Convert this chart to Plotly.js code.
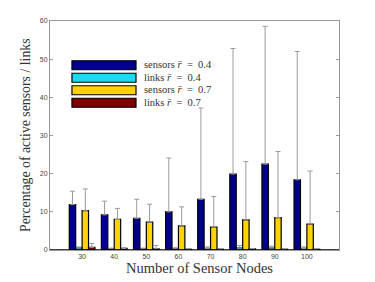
<!DOCTYPE html>
<html>
<head>
<meta charset="utf-8">
<script src="https://cdn.plot.ly/plotly-3.0.1.min.js"></script>
<style>html,body{margin:0;padding:0;background:#fff;}#chart{width:375px;height:282px;}</style>
</head>
<body>
<div id="chart"></div>
<script>
// ---- data ----
const nodes = [30, 40, 50, 60, 70, 80, 90, 100];
const sensors04 = [11.9, 9.2, 8.3, 10.0, 13.3, 19.9, 22.5, 18.4];
const sensors04Upper = [15.4, 12.8, 13.3, 24.1, 37.2, 52.8, 58.6, 52.0];
const links04 = [0.6, 0.3, 0.3, 0.3, 0.4, 0.6, 0.5, 0.4];
const links04Upper = [0.8, 0.5, 0.5, 0.6, 0.8, 1.2, 1.0, 0.8];
const sensors07 = [10.3, 8.0, 7.3, 6.3, 6.0, 7.9, 8.5, 6.8];
const sensors07Upper = [16.0, 10.9, 12.0, 11.3, 14.0, 23.2, 25.8, 20.7];
const links07 = [0.7, 0.4, 0.3, 0.2, 0.2, 0.3, 0.2, 0.2];
const links07Upper = [1.7, 0.6, 1.2, 0.3, 0.3, 0.4, 0.3, 0.3];
const seriesNames = ['sensors <i>r\u0304</i>\u2002=\u20020.4', 'links <i>r\u0304</i>\u2002=\u20020.4', 'sensors <i>r\u0304</i>\u2002=\u20020.7', 'links <i>r\u0304</i>\u2002=\u20020.7'];
const yTicks = [0, 10, 20, 30, 40, 50, 60];

const colors = ['#00008c', '#20d8f2', '#ffd200', '#800000'];
const series = [
  [sensors04, sensors04Upper],
  [links04, links04Upper],
  [sensors07, sensors07Upper],
  [links07, links07Upper]
];

const traces = series.map((s, i) => ({
  type: 'bar',
  x: nodes,
  y: s[0],
  name: seriesNames[i],
  marker: {color: colors[i], line: {color: '#000', width: 1.2}},
  error_y: {
    type: 'data', symmetric: false,
    array: s[1].map((u, k) => Math.max(0, u - s[0][k])),
    arrayminus: s[0].map(() => 0),
    color: '#9a9a9a', thickness: 1, width: 2.5
  },
  showlegend: false
}));

// custom legend (wide swatches like the original)
const shapes = [];
const annotations = [];
const rowCenter = [0.8068, 0.7522, 0.6976, 0.643];
const rowH = 0.0393;
for (let i = 0; i < 4; i++) {
  shapes.push({type: 'rect', xref: 'paper', yref: 'paper', x0: 0.076, x1: 0.2976,
    y0: rowCenter[i] - rowH / 2, y1: rowCenter[i] + rowH / 2, fillcolor: colors[i], line: {color: '#000', width: 1.2}});
  annotations.push({xref: 'paper', yref: 'paper', x: 0.318, y: rowCenter[i] + 0.003,
    xanchor: 'left', yanchor: 'middle', showarrow: false, text: seriesNames[i],
    font: {family: 'Liberation Serif, Times New Roman, serif', size: 10.5, color: '#333'}});
}
// black baseline
shapes.push({type: 'line', xref: 'paper', yref: 'y', x0: 0, x1: 1, y0: 0, y1: 0,
  line: {color: '#000', width: 1.5}, layer: 'above'});

annotations.push({xref: 'paper', yref: 'paper', x: 0.517, y: -0.036, xanchor: 'center', yanchor: 'top',
  showarrow: false, text: 'Number of Sensor Nodes',
  font: {family: 'Liberation Serif, Times New Roman, serif', size: 14.5, color: '#333'}});
annotations.push({xref: 'paper', yref: 'paper', x: -0.085, y: 0.5, xanchor: 'center', yanchor: 'middle',
  textangle: -90, showarrow: false, text: 'Percentage of active sensors / links',
  font: {family: 'Liberation Serif, Times New Roman, serif', size: 13.8, color: '#333'}});

const layout = {
  width: 375, height: 282,
  margin: {l: 50, r: 36, t: 21, b: 32},
  paper_bgcolor: '#fff', plot_bgcolor: '#fff',
  barmode: 'group', bargap: 0.2, bargroupgap: 0,
  xaxis: {
    range: [20, 110], tickvals: nodes, ticktext: nodes.map(String),
    showgrid: false, zeroline: false, showline: true, linecolor: '#999', linewidth: 1, mirror: true,
    ticks: '', tickfont: {family: 'Liberation Sans, Arial, sans-serif', size: 7, color: '#444'}
  },
  yaxis: {
    range: [0, 60], tickvals: yTicks, showgrid: false, zeroline: false,
    showline: true, linecolor: '#999', linewidth: 1, mirror: 'ticks',
    ticks: 'inside', ticklen: 3, tickcolor: '#999',
    tickfont: {family: 'Liberation Sans, Arial, sans-serif', size: 7, color: '#444'}
  },
  shapes: shapes,
  annotations: annotations
};

Plotly.newPlot('chart', traces, layout, {displayModeBar: false, staticPlot: true});
</script>
</body>
</html>
